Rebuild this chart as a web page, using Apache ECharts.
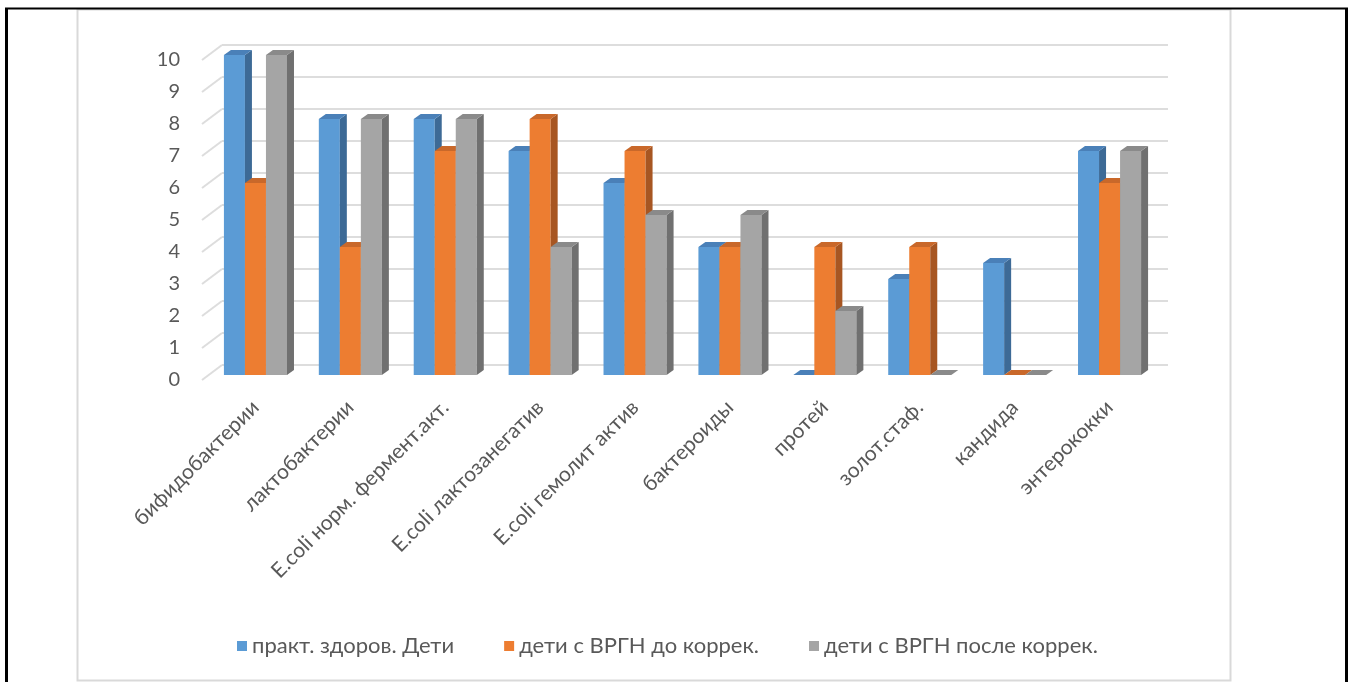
<!DOCTYPE html>
<html>
<head>
<meta charset="utf-8">
<script src="https://cdn.jsdelivr.net/npm/echarts@6/dist/echarts.min.js"></script>
<style>
  html, body { margin: 0; padding: 0; background: #fff; }
  #chart { width: 1351px; height: 682px; }
</style>
</head>
<body>
<div id="chart"></div>
<script>
const categories = [
  'бифидобактерии', 'лактобактерии', 'E.coli норм. фермент.акт.', 'E.coli лактозанегатив',
  'E.coli гемолит актив', 'бактероиды', 'протей', 'золот.стаф.', 'кандида', 'энтерококки'
];
const healthy = [10, 8, 8, 7, 6, 4, 0, 3, 3.5, 7];
const beforeCorr = [6, 4, 7, 8, 7, 4, 4, 4, 0, 6];
const afterCorr = [10, 8, 8, 4, 5, 5, 2, 0, 0, 7];
const seriesNames = ['практ. здоров. Дети', 'дети с ВРГН до коррек.', 'дети с ВРГН после коррек.'];
const yTicks = [0, 1, 2, 3, 4, 5, 6, 7, 8, 9, 10];

const faces = [
  { front: '#5B9BD5', top: '#4A80B8', side: '#3D6A96' },
  { front: '#ED7D31', top: '#C9682A', side: '#A75622' },
  { front: '#A5A5A5', top: '#8A8A8A', side: '#707070' }
];
const DX = 7, DY = 5;
const textColor = '#595959';
const font = 'Lato';

const chart = echarts.init(document.getElementById('chart'));

function barRenderer(idx) {
  return function (params, api) {
    const cat = api.value(0);
    const val = api.value(1);
    const base = api.coord([cat, 0]);
    const top = api.coord([cat, val]);
    const band = api.size([1, 0])[0];
    const w = band * 0.2215;
    const x0 = base[0] + (idx - 1.5) * w;
    const x1 = x0 + w;
    const f = faces[idx];
    return {
      type: 'group',
      children: [
        {
          type: 'rect',
          shape: { x: x0, y: top[1], width: w, height: base[1] - top[1] },
          style: { fill: f.front }
        },
        {
          type: 'polygon',
          shape: { points: [[x1, top[1]], [x1 + DX, top[1] - DY], [x1 + DX, base[1] - DY], [x1, base[1]]] },
          style: { fill: f.side }
        },
        {
          type: 'polygon',
          shape: { points: [[x0, top[1]], [x0 + DX, top[1] - DY], [x1 + DX, top[1] - DY], [x1, top[1]]] },
          style: { fill: f.top }
        }
      ]
    };
  };
}

const seriesData = [healthy, beforeCorr, afterCorr];

const option = {
  animation: false,
  grid: [
    // bars (front of bars)
    { left: 208, right: 1351 - 1157, top: 55, height: 320 },
    // back wall
    { left: 222, right: 1351 - 1168, top: 45, height: 320 },
    // side wall front edge + value labels
    { left: 202, right: 1351 - 222, top: 60, height: 320 }
  ],
  xAxis: [
    {
      type: 'category', gridIndex: 0, data: categories,
      axisLine: { show: false }, axisTick: { show: false },
      axisLabel: { rotate: 45, interval: 0, margin: 29, color: textColor, fontSize: 21, fontFamily: font }
    },
    { type: 'value', gridIndex: 1, min: 0, max: 1, show: false },
    { type: 'value', gridIndex: 2, min: 0, max: 1, show: false }
  ],
  yAxis: [
    { type: 'value', gridIndex: 0, min: 0, max: 10, interval: 1, show: false },
    {
      type: 'value', gridIndex: 1, min: 0, max: 10, interval: 1,
      axisLine: { show: false }, axisTick: { show: false }, axisLabel: { show: false },
      splitLine: { lineStyle: { color: '#DDDDDD', width: 2 } }
    },
    {
      type: 'value', gridIndex: 2, min: 0, max: 10, interval: 1,
      axisLine: { show: false }, axisTick: { show: false }, splitLine: { show: false },
      axisLabel: { margin: 22, color: textColor, fontSize: 20, fontFamily: font }
    }
  ],
  legend: {
    left: 232, top: 630,
    icon: 'rect', itemWidth: 10, itemHeight: 10, itemGap: 50,
    textStyle: { color: textColor, fontSize: 22, fontFamily: font },
    data: seriesNames
  },
  series: seriesNames.map((name, i) => ({
    name: name,
    type: 'custom',
    xAxisIndex: 0, yAxisIndex: 0,
    encode: { x: 0, y: 1 },
    itemStyle: { color: faces[i].front },
    data: seriesData[i].map((v, j) => [j, v]),
    renderItem: barRenderer(i)
  })).concat([
    {
      type: 'custom', xAxisIndex: 2, yAxisIndex: 2, silent: true, z: 1,
      itemStyle: { color: '#DDDDDD' },
      data: yTicks.map(v => [0, v]),
      renderItem: function (params, api) {
        const p = api.coord([0, api.value(1)]);
        return {
          type: 'line',
          shape: { x1: p[0], y1: p[1], x2: p[0] + 20, y2: p[1] - 15 },
          style: { stroke: '#DDDDDD', lineWidth: 2 }
        };
      }
    }
  ]),
  graphic: [
    { type: 'rect', shape: { x: 77.5, y: 9.5, width: 1153, height: 671 }, style: { fill: 'none', stroke: '#D9D9D9', lineWidth: 2 } },
    { type: 'line', shape: { x1: 5, y1: 8.5, x2: 1348, y2: 8.5 }, style: { stroke: '#000', lineWidth: 2 } },
    { type: 'line', shape: { x1: 6.5, y1: 8, x2: 6.5, y2: 682 }, style: { stroke: '#000', lineWidth: 3 } },
    { type: 'line', shape: { x1: 1346.5, y1: 8, x2: 1346.5, y2: 682 }, style: { stroke: '#000', lineWidth: 3 } }
  ]
};

chart.setOption(option);
</script>
</body>
</html>
